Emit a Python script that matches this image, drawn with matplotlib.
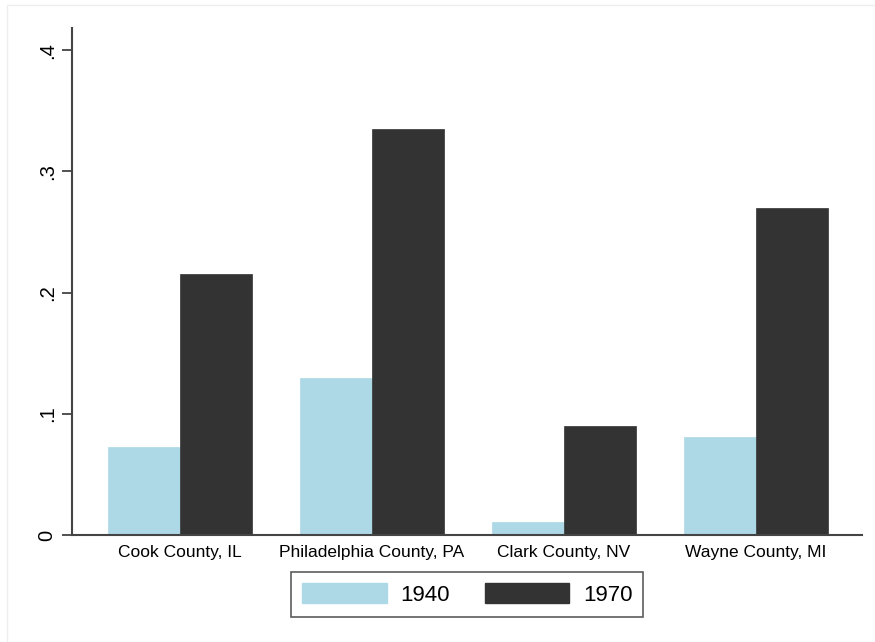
import matplotlib.pyplot as plt
import matplotlib.patches as mpatches
import numpy as np

plt.rcParams['font.family'] = ['Liberation Sans', 'DejaVu Sans']

counties = ['Cook County, IL', 'Philadelphia County, PA', 'Clark County, NV', 'Wayne County, MI']
share_1940 = [0.0726, 0.1295, 0.0107, 0.081]
share_1970 = [0.215, 0.335, 0.090, 0.270]
years = ['1940', '1970']
yticks = [0, 0.1, 0.2, 0.3, 0.4]
ytick_labels = ['0', '.1', '.2', '.3', '.4']

light = '#add8e6'
dark = '#333333'

fig = plt.figure(figsize=(8.75, 6.42), dpi=100)
# faint outer frame like the Stata export
fig.patches.append(mpatches.Rectangle((7 / 875, 0.0), 1.0, 1 - 5 / 642, transform=fig.transFigure,
                                      fill=False, edgecolor='#eeeeee', linewidth=1))
ax = fig.add_axes([72 / 875, 107 / 642, 790 / 875, 507 / 642])

x = np.arange(len(counties))
w = 0.375
ax.bar(x - w / 2, share_1940, width=w, color=light, edgecolor=light, linewidth=0.5)
ax.bar(x + w / 2, share_1970, width=w, color=dark, edgecolor=dark, linewidth=0.5)

ax.set_xlim(-0.5625, 3.552)
ax.set_ylim(0, 0.4183)
ax.set_xticks(x)
ax.set_xticklabels(counties, fontsize=12.5)
ax.tick_params(axis='x', length=0, pad=7)
ax.set_yticks(yticks)
ax.set_yticklabels(ytick_labels, fontsize=14.5, rotation=90, va='center')
ax.tick_params(axis='y', length=7, width=1.2, color='#333333', pad=4)

for side in ['top', 'right']:
    ax.spines[side].set_visible(False)
for side in ['left', 'bottom']:
    ax.spines[side].set_color('#444444')
    ax.spines[side].set_linewidth(1.5)

handles = [mpatches.Patch(facecolor=light, edgecolor=light),
           mpatches.Patch(facecolor=dark, edgecolor=dark)]
leg = fig.legend(handles, years, loc='center', bbox_to_anchor=(0.534, 0.074), ncol=2,
                 fontsize=16, frameon=True, fancybox=False, edgecolor='#333333',
                 handlelength=3.8, handleheight=1.0, columnspacing=1.6, handletextpad=0.6,
                 borderpad=0.5)
leg.get_frame().set_linewidth(1.2)

fig.savefig('out.png', dpi=100, facecolor='white')
